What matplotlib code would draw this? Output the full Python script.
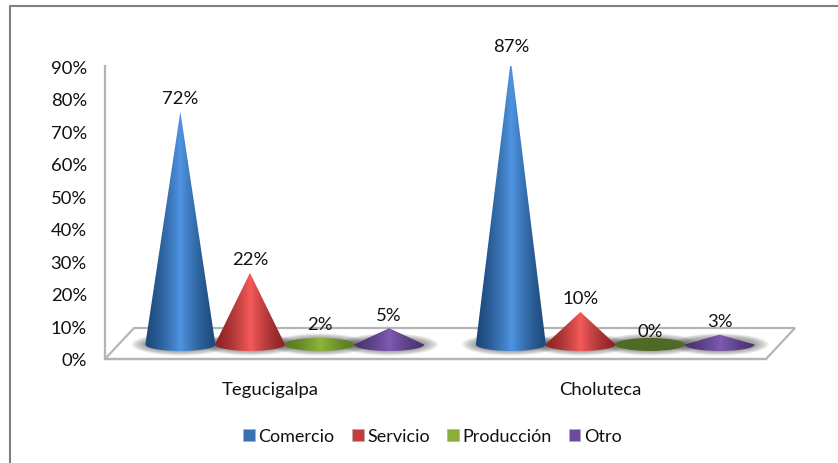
import matplotlib
matplotlib.use('Agg')
import matplotlib.pyplot as plt
import numpy as np
from matplotlib.colors import LinearSegmentedColormap
from matplotlib.lines import Line2D
from matplotlib.patches import Ellipse, PathPatch, Patch, Polygon
from matplotlib.path import Path

plt.rcParams['font.family'] = ['Lato', 'DejaVu Sans']

ciudades = ['Tegucigalpa', 'Choluteca']
series = ['Comercio', 'Servicio', 'Producción', 'Otro']
comercio = [71.5, 87.4]
servicio = [22, 10]
produccion = [2, 0]
otro = [5, 3]
valores = [comercio, servicio, produccion, otro]
yticks = [0, 10, 20, 30, 40, 50, 60, 70, 80, 90]

# edge, middle colours of each cone
colores = [('#1d4a7c', '#4f93e0'), ('#8c2324', '#f25a5a'),
           ('#5a7a20', '#8fb43c'), ('#4a3272', '#7d5bb0')]
leyenda = ['#3a70b0', '#c43c3c', '#8aae3c', '#6d4a9e']

fig = plt.figure(figsize=(8.38, 4.64), dpi=100)
W, H = 838, 464
ax = fig.add_axes([105 / W, 1 - 360 / H, 661 / W, 293 / H])

# depth of the floor, in data units
prof_x = 29 / 661 * 2
prof_y = 31 / 293 * 90
ax_w = 0.2106   # distance between cones
radio = 0.106
semi_alto = 2.0

# floor
ax.add_patch(Polygon([(-0.5, 0), (1.5, 0), (1.5 + prof_x, prof_y), (-0.5 + prof_x, prof_y)],
                     closed=True, facecolor='white', edgecolor='#b5b5b5', linewidth=1.6,
                     clip_on=False, zorder=1))

base_y = prof_y / 2 - 0.3
grad = np.concatenate([np.linspace(0, 1, 128), np.linspace(1, 0, 128)]).reshape(1, -1)
grad = grad ** 1.4

for i, (nombre, vals) in enumerate(zip(series, valores)):
    cmap = LinearSegmentedColormap.from_list(nombre, colores[i])
    for j, v in enumerate(vals):
        cx = j + (prof_x / 2) + (i - 1.5) * ax_w
        # shadow under the cone
        for k in range(8):
            ax.add_patch(Ellipse((cx, base_y), 2 * radio * (1.4 - k * 0.05), 2 * semi_alto * (1.7 - k * 0.09),
                                 facecolor='#404040', edgecolor='none', alpha=0.07, zorder=2, clip_on=False))
        if v == 0:
            ax.add_patch(Ellipse((cx, base_y), 2 * radio, 2 * semi_alto, facecolor='#4f6a24',
                                 edgecolor='none', zorder=3 + i, clip_on=False))
            tip = base_y
        else:
            tip = base_y + v
            # lower half of the base, then up to the tip
            t = np.linspace(np.pi, 2 * np.pi, 40)
            xs = cx + radio * np.cos(t)
            ys = base_y + semi_alto * np.sin(t)
            verts = [(cx, max(tip, base_y + semi_alto))] + list(zip(xs, ys))
            # flat cones still show the whole ellipse
            if tip <= base_y + semi_alto:
                t2 = np.linspace(0, np.pi, 40)
                verts = list(zip(cx + radio * np.cos(t2), base_y + semi_alto * np.sin(t2))) + list(zip(xs, ys))
            path = Path(verts + [verts[0]], closed=True)
            im = ax.imshow(grad, cmap=cmap, aspect='auto', vmin=0, vmax=1, interpolation='bilinear',
                           extent=[cx - radio, cx + radio, base_y - semi_alto, max(tip, base_y + semi_alto)],
                           zorder=3 + i)
            im.set_clip_path(PathPatch(path, transform=ax.transData))
        ax.annotate('%.0f%%' % v, (cx, tip), xytext=(0, 4), textcoords='offset points',
                    ha='center', va='bottom', fontsize=13.3, color='#111111', zorder=10,
                    annotation_clip=False)

ax.set_xlim(-0.5, 1.5)
ax.set_ylim(0, 90)
ax.set_xticks([0, 1])
ax.set_xticklabels(ciudades, fontsize=13.3, color='#111111')
ax.set_yticks(yticks)
ax.set_yticklabels(['%d%%' % y for y in yticks], fontsize=13.3, color='#111111')
ax.tick_params(axis='x', length=0, pad=15.5)
ax.tick_params(axis='y', length=0, pad=13)
ax.patch.set_visible(False)
for s in ['top', 'right']:
    ax.spines[s].set_visible(False)
for s in ['left', 'bottom']:
    ax.spines[s].set_color('#b5b5b5')
    ax.spines[s].set_linewidth(1.6)

handles = [Patch(facecolor=c, edgecolor='#b0b0b0', linewidth=0.5, label=s) for c, s in zip(leyenda, series)]
fig.legend(handles=handles, ncol=4, loc='center', bbox_to_anchor=(432.5 / W, 1 - 437 / H), frameon=False,
           fontsize=13, handlelength=0.65, handleheight=0.65, handletextpad=0.2, columnspacing=0.95,
           labelcolor='#111111')

# outer frame only shows on the top and the left
fig.add_artist(Line2D([9.5 / W, 9.5 / W, 1], [0, 1 - 7 / H, 1 - 7 / H], color='#808080', linewidth=1.5,
                      transform=fig.transFigure))
fig.savefig('out.png', dpi=100, facecolor='white')
